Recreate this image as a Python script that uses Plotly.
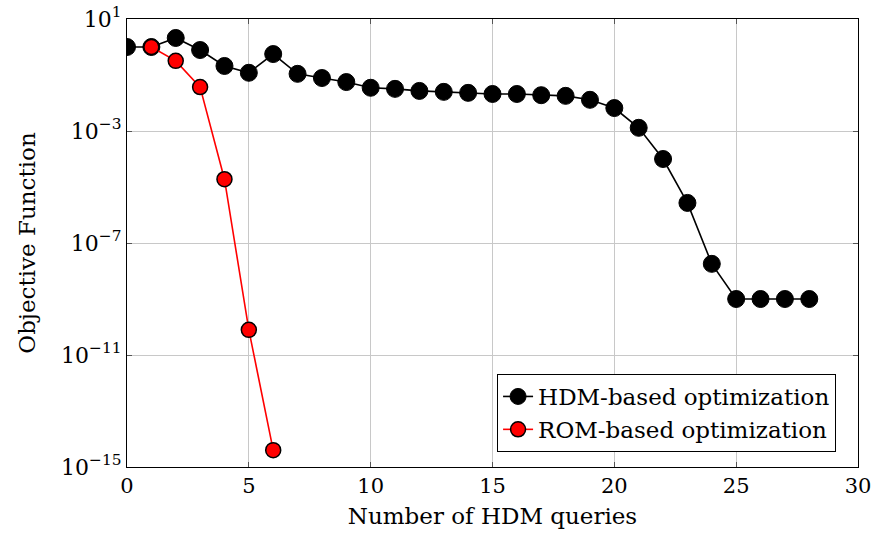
import plotly.graph_objects as go

hdm_x = list(range(0, 29))
hdm_y = [1.0, 1.0, 2.1, 0.78, 0.21, 0.12, 0.56, 0.11, 0.078, 0.056, 0.035, 0.032,
         0.027, 0.025, 0.023, 0.021, 0.021, 0.019, 0.018, 0.013, 0.0066, 0.0013,
         1.0e-4, 2.7e-6, 1.8e-8, 1.0e-9, 1.0e-9, 1.0e-9, 1.0e-9]

rom_x = [1, 2, 3, 4, 5, 6]
rom_y = [1.0, 0.32, 0.037, 1.9e-5, 7.9e-11, 4.0e-15]

y_tickvals = [1e1, 1e-3, 1e-7, 1e-11, 1e-15]
y_ticktext = ["10<sup>1</sup>", "10<sup>−3</sup>", "10<sup>−7</sup>", "10<sup>−11</sup>", "10<sup>−15</sup>"]
x_tickvals = [0, 5, 10, 15, 20, 25, 30]

FONT = "DejaVu Serif"

fig = go.Figure()
fig.add_trace(go.Scatter(
    x=hdm_x, y=hdm_y, mode="lines+markers", name="HDM-based optimization",
    line=dict(color="black", width=1.6),
    marker=dict(color="black", size=17, line=dict(color="black", width=1)),
))
fig.add_trace(go.Scatter(
    x=rom_x, y=rom_y, mode="lines+markers", name="ROM-based optimization",
    line=dict(color="red", width=1.6),
    marker=dict(color="red", size=15, line=dict(color="black", width=1.5)),
))

fig.update_layout(
    width=874, height=535,
    margin=dict(l=127, r=16, t=19, b=68),
    paper_bgcolor="white", plot_bgcolor="white",
    font=dict(family=FONT, size=21, color="black"),
    showlegend=True,
    legend=dict(
        x=0.97, y=0.0335, xanchor="right", yanchor="bottom",
        bgcolor="white", bordercolor="black", borderwidth=1,
        font=dict(family=FONT, size=23, color="black"),
        itemwidth=30, tracegroupgap=0,
    ),
)
fig.update_xaxes(
    range=[0, 30], tickvals=x_tickvals, ticks="inside", ticklen=5, tickcolor="#555",
    showgrid=True, gridcolor="#c8c8c8", gridwidth=1, zeroline=False,
    showline=True, linecolor="black", linewidth=1.2, mirror="ticks",
    tickfont=dict(family=FONT, size=21), automargin=False,
    title=dict(text="Number of HDM queries", font=dict(family=FONT, size=23), standoff=10),
)
fig.update_yaxes(
    type="log", range=[-15, 1], tickvals=y_tickvals, ticktext=y_ticktext,
    ticks="inside", ticklen=5, tickcolor="#555",
    showgrid=True, gridcolor="#c8c8c8", gridwidth=1, zeroline=False,
    showline=True, linecolor="black", linewidth=1.2, mirror="ticks",
    tickfont=dict(family=FONT, size=22), automargin=False,
    title=dict(text="Objective Function", font=dict(family=FONT, size=23), standoff=18),
)

fig.write_html("out.html")
